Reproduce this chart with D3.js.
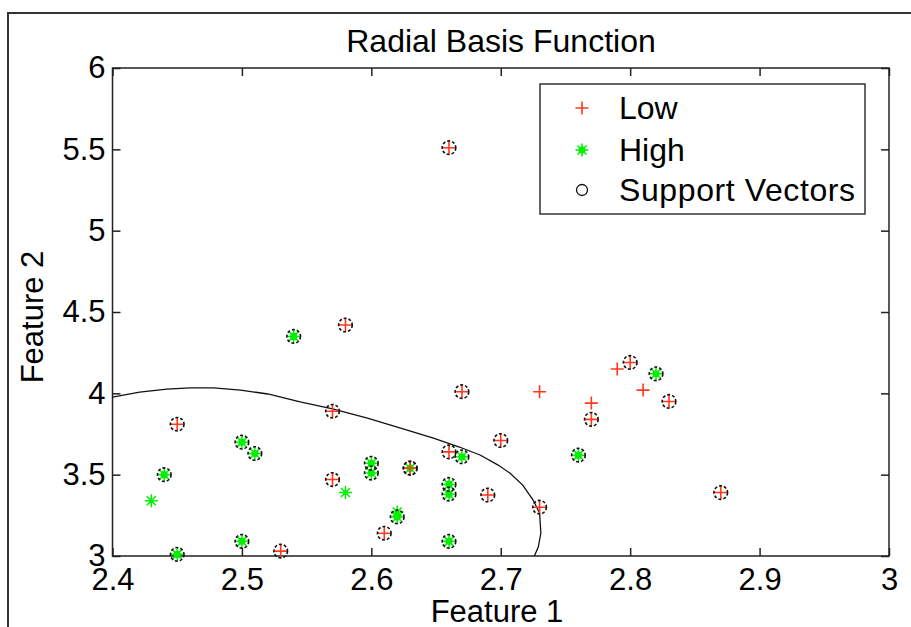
<!DOCTYPE html>
<html>
<head>
<meta charset="utf-8">
<script src="https://cdn.jsdelivr.net/npm/d3@7"></script>
<style>
  html, body { margin: 0; padding: 0; background: #fff; }
  svg { display: block; font-family: "Liberation Sans", Arial, Helvetica, sans-serif; }
</style>
</head>
<body>
<svg id="chart" width="911" height="627"></svg>
<script>
// ---------- data ----------
const title = "Radial Basis Function";
const xLabel = "Feature 1";
const yLabel = "Feature 2";
const xTicks = [2.4, 2.5, 2.6, 2.7, 2.8, 2.9, 3];
const xTickLabels = ["2.4", "2.5", "2.6", "2.7", "2.8", "2.9", "3"];
const yTicks = [3, 3.5, 4, 4.5, 5, 5.5, 6];
const yTickLabels = ["3", "3.5", "4", "4.5", "5", "5.5", "6"];
const legendLabels = ["Low", "High", "Support Vectors"];

// Low class points [feature1, feature2, isSupportVector]
const lowPoints = [
  [2.66, 5.51, 1], [2.58, 4.42, 1], [2.67, 4.01, 1], [2.57, 3.89, 1],
  [2.45, 3.81, 1], [2.70, 3.71, 1], [2.66, 3.64, 1], [2.63, 3.54, 1],
  [2.57, 3.47, 1], [2.69, 3.375, 1], [2.73, 3.30, 1], [2.61, 3.14, 1],
  [2.53, 3.03, 1], [2.80, 4.19, 1], [2.83, 3.95, 1], [2.77, 3.84, 1],
  [2.87, 3.39, 1],
  [2.73, 4.01, 0], [2.77, 3.94, 0], [2.79, 4.15, 0], [2.81, 4.02, 0]
];
// High class points [feature1, feature2, isSupportVector]
const highPoints = [
  [2.54, 4.35, 1], [2.50, 3.70, 1], [2.51, 3.63, 1], [2.44, 3.50, 1],
  [2.45, 3.01, 1], [2.50, 3.09, 1], [2.60, 3.57, 1], [2.60, 3.51, 1],
  [2.63, 3.54, 1], [2.62, 3.24, 1], [2.66, 3.44, 1], [2.66, 3.38, 1],
  [2.67, 3.61, 1], [2.66, 3.09, 1], [2.76, 3.62, 1], [2.82, 4.12, 1],
  [2.43, 3.34, 0], [2.58, 3.39, 0], [2.62, 3.27, 0]
];
// decision boundary (contour) points
const boundary = [
  [2.400, 3.977], [2.421, 4.008], [2.442, 4.026], [2.460, 4.033], [2.478, 4.033],
  [2.499, 4.020], [2.520, 3.996], [2.545, 3.947], [2.570, 3.904], [2.597, 3.848],
  [2.622, 3.787], [2.648, 3.725], [2.668, 3.670], [2.684, 3.621], [2.698, 3.559],
  [2.707, 3.510], [2.717, 3.436], [2.725, 3.344], [2.730, 3.264], [2.731, 3.141],
  [2.729, 3.055], [2.726, 3.000]
];

// ---------- styles ----------
const RED = "#ff3a1c";
const GREEN = "#00f000";
const FONT = 31;

const svg = d3.select("#chart");

// outer figure frame
svg.append("path")
  .attr("d", "M8,627 L8,13 L911,13")
  .attr("fill", "none").attr("stroke", "#333").attr("stroke-width", 2);

const x = d3.scaleLinear().domain([2.4, 3]).range([112.5, 889]);
const y = d3.scaleLinear().domain([3, 6]).range([556, 68]);

// axes
const gx = svg.append("g").attr("transform", `translate(0,${y(3)})`)
  .call(d3.axisBottom(x).tickValues(xTicks).tickSize(-8).tickPadding(12)
    .tickFormat((d, i) => xTickLabels[i]));
const gxt = svg.append("g").attr("transform", `translate(0,${y(6)})`)
  .call(d3.axisTop(x).tickValues(xTicks).tickSize(-8).tickFormat(""));
const gy = svg.append("g").attr("transform", `translate(${x(2.4)},0)`)
  .call(d3.axisLeft(y).tickValues(yTicks).tickSize(-8).tickPadding(7)
    .tickFormat((d, i) => yTickLabels[i]));
const gyr = svg.append("g").attr("transform", `translate(${x(3)},0)`)
  .call(d3.axisRight(y).tickValues(yTicks).tickSize(-8).tickFormat(""));

[gx, gxt, gy, gyr].forEach(g => {
  g.select(".domain").remove();
  g.selectAll(".tick line").attr("stroke", "#222").attr("stroke-width", 1.5);
  g.selectAll(".tick text").attr("fill", "#000").attr("font-size", FONT)
    .attr("font-family", "Liberation Sans, Arial, sans-serif");
});
svg.append("rect")
  .attr("x", x(2.4)).attr("y", y(6))
  .attr("width", x(3) - x(2.4)).attr("height", y(3) - y(6))
  .attr("fill", "none").attr("stroke", "#222").attr("stroke-width", 1.5);

// boundary line
const line = d3.line().x(d => x(d[0])).y(d => y(d[1]));
svg.append("path").datum(boundary)
  .attr("d", line).attr("fill", "none")
  .attr("stroke", "#111").attr("stroke-width", 1.3);

// markers
function plus(g, cx, cy) {
  g.append("path")
    .attr("d", `M${cx - 6.5},${cy} L${cx + 6.5},${cy} M${cx},${cy - 6.5} L${cx},${cy + 6.5}`)
    .attr("stroke", RED).attr("stroke-width", 1.6).attr("fill", "none");
}
function star(g, cx, cy, filled) {
  g.append("circle").attr("cx", cx).attr("cy", cy).attr("r", filled ? 3.6 : 2.2).attr("fill", GREEN);
  const a = 6.5, b = 4.5;
  g.append("path")
    .attr("d", `M${cx - a},${cy} L${cx + a},${cy} M${cx},${cy - a} L${cx},${cy + a}` +
      ` M${cx - b},${cy - b} L${cx + b},${cy + b} M${cx - b},${cy + b} L${cx + b},${cy - b}`)
    .attr("stroke", GREEN).attr("stroke-width", 1.5).attr("fill", "none");
}
function svCircle(g, cx, cy) {
  g.append("circle").attr("cx", cx).attr("cy", cy).attr("r", 6.8)
    .attr("fill", "none").attr("stroke", "#111").attr("stroke-width", 1.6)
    .attr("stroke-dasharray", "3,2");
}

const gp = svg.append("g");
highPoints.forEach(d => star(gp, x(d[0]), y(d[1]), d[2] === 1));
lowPoints.forEach(d => plus(gp, x(d[0]), y(d[1])));
const gsv = svg.append("g");
lowPoints.filter(d => d[2] === 1).forEach(d => svCircle(gsv, x(d[0]), y(d[1])));
highPoints.filter(d => d[2] === 1).forEach(d => svCircle(gsv, x(d[0]), y(d[1])));

// title & labels
svg.append("text").attr("x", 501).attr("y", 52).attr("text-anchor", "middle")
  .attr("font-size", 32).text(title);
svg.append("text").attr("x", 497).attr("y", 622).attr("text-anchor", "middle")
  .attr("font-size", FONT).text(xLabel);
svg.append("text").attr("transform", "translate(43,317) rotate(-90)")
  .attr("text-anchor", "middle").attr("font-size", FONT).text(yLabel);

// legend
const lg = svg.append("g");
lg.append("rect").attr("x", 540).attr("y", 84).attr("width", 325).attr("height", 130)
  .attr("fill", "#fff").attr("stroke", "#333").attr("stroke-width", 1.5);
const rowsY = [108, 150, 190];
plus(lg, 582, rowsY[0]);
star(lg, 582, rowsY[1], true);
lg.append("circle").attr("cx", 582).attr("cy", rowsY[2]).attr("r", 5.5)
  .attr("fill", "none").attr("stroke", "#111").attr("stroke-width", 1.3);
legendLabels.forEach((t, i) => {
  lg.append("text").attr("x", 619).attr("y", rowsY[i] + 11)
    .attr("font-size", 32).attr("letter-spacing", i === 2 ? 0.6 : 0).text(t);
});
</script>
</body>
</html>
